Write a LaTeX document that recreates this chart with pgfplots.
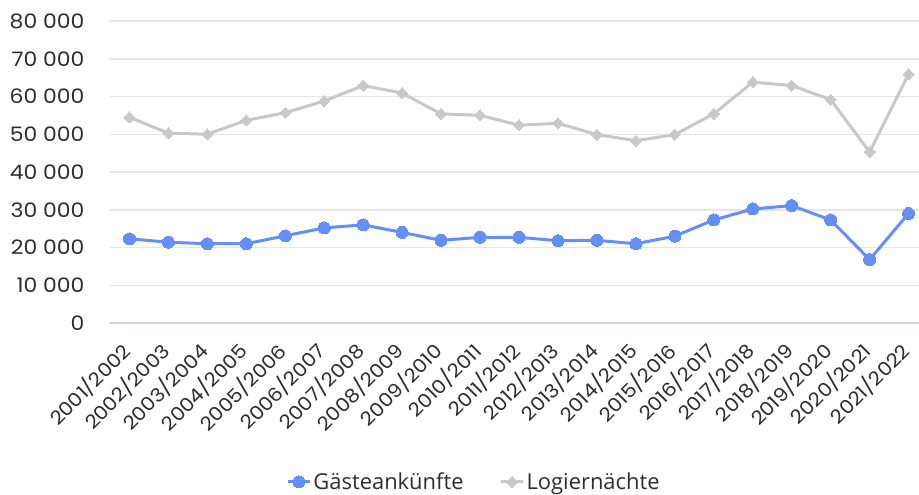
\documentclass[border=0pt]{standalone}
\usepackage{fontspec}
\setmainfont{Poppins}
\newfontfamily\numfont[FakeStretch=1.1]{Poppins}
\newfontfamily\legfont{Open Sans}
\usepackage{pgfplots}
\pgfplotsset{compat=1.18}
\definecolor{cBlue}{RGB}{100,143,250}
\definecolor{cGrey}{RGB}{200,200,200}
\definecolor{cGrid}{RGB}{230,230,230}
\definecolor{cAxis}{RGB}{204,214,235}
\definecolor{cText}{RGB}{45,45,45}
\begin{document}
\begin{tikzpicture}
\begin{axis}[
  scale only axis, width=818bp, height=302bp,
  xmin=-0.5, xmax=20.5, ymin=0, ymax=80000,
  enlargelimits=false,
  axis x line*=bottom, axis y line*=left,
  x axis line style={draw=cAxis, line width=1.5bp, -},
  y axis line style={draw=none},
  major tick length=0pt,
  ymajorgrids, grid style={cGrid, line width=1.5bp},
  ytick={0,10000,...,80000},
  scaled y ticks=false,
  /pgf/number format/assume math mode=true,
  /pgf/number format/1000 sep={\ },
  yticklabel style={font=\numfont\fontsize{20}{24}\selectfont, text=cText, anchor=east},
  yticklabel shift=22bp,
  xtick={0,...,20},
  xticklabels={2001/2002,2002/2003,2003/2004,2004/2005,2005/2006,2006/2007,2007/2008,2008/2009,2009/2010,2010/2011,2011/2012,2012/2013,2013/2014,2014/2015,2015/2016,2016/2017,2017/2018,2018/2019,2019/2020,2020/2021,2021/2022},
  xticklabel style={font=\numfont\fontsize{19}{23}\selectfont, text=cText, rotate=45, anchor=east},
  xticklabel shift=22bp,
  legend style={at={(0.445,-0.526)}, anchor=center, draw=none, fill=none,
    legend columns=2, font=\legfont\fontsize{22}{26}\selectfont, text=cText,
    /tikz/every even column/.style={column sep=34bp}},
  legend image code/.code={\draw[#1, mark=none] (0bp,0bp)--(22bp,0bp); \draw[#1, only marks] plot coordinates {(11bp,0bp)};},
]
\addplot[color=cBlue, line width=3bp, mark=*, mark size=6bp, mark options={fill=cBlue, draw=cBlue, line width=0pt}]
coordinates {
(0,22300) (1,21400) (2,21000) (3,21000) (4,23100) (5,25200) (6,26000) (7,24000) (8,21900) (9,22700) (10,22700)
(11,21800) (12,21900) (13,21000) (14,23000) (15,27300) (16,30200) (17,31100) (18,27300) (19,16800) (20,29000)
};
\addlegendentry{Gästeankünfte}
\addplot[color=cGrey, line width=3bp, mark=square*, mark size=3.9bp, mark options={rotate=45, fill=cGrey, draw=cGrey, line width=0pt}]
coordinates {
(0,54500) (1,50300) (2,50000) (3,53700) (4,55700) (5,58800) (6,62900) (7,60900) (8,55400) (9,55000) (10,52400)
(11,52900) (12,49900) (13,48300) (14,49900) (15,55400) (16,63800) (17,62900) (18,59200) (19,45300) (20,65900)
};
\addlegendentry{Logiernächte}
\end{axis}
\pgfresetboundingbox
\path[use as bounding box] (-110bp,-172bp) rectangle (809bp,323bp);
\end{tikzpicture}
\end{document}
